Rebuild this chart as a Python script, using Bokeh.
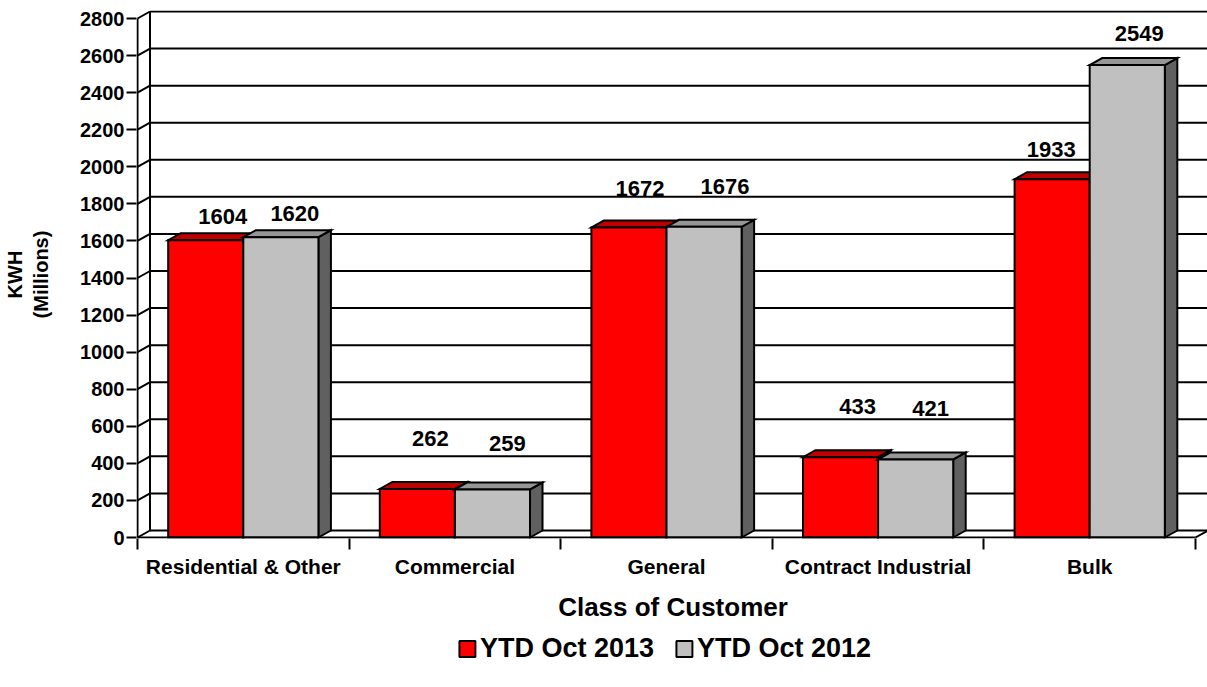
import numpy as np
from bokeh.plotting import figure
from bokeh.layouts import column
from bokeh.models import (Range1d, FixedTicker, LinearAxis, Legend, LegendItem,
                          ColumnDataSource)
from bokeh.embed import file_html
from bokeh.resources import INLINE
from bokeh.core.properties import value

# ---------------- data ----------------
categories = ["Residential & Other", "Commercial", "General",
              "Contract Industrial", "Bulk"]
series_names = ["YTD Oct 2013", "YTD Oct 2012"]
ytd_oct_2013 = [1604, 262, 1672, 433, 1933]
ytd_oct_2012 = [1620, 259, 1676, 421, 2549]
y_ticks = [0, 200, 400, 600, 800, 1000, 1200, 1400, 1600, 1800,
           2000, 2200, 2400, 2600, 2800]

# ---------------- styling / placement ----------------
FONT = "Liberation Sans"
RED, RED_TOP, RED_SIDE = "#FF0000", "#C00000", "#800000"
GRAY, GRAY_TOP, GRAY_SIDE = "#C0C0C0", "#969696", "#606060"
# manual data-label nudges (screen px, relative to bar top centre)
label_dx_2013 = [17, 13, 11, 17, -1]
label_dy_2013 = [-24, -50, -39, -51, -30]
label_dx_2012 = [14, 15, 21, 15, 12]
label_dy_2012 = [-24, -46, -40, -51, -32]

W = 1207
B_LEFT, B_TOP, B_BOTTOM = 134, 10, 96
FRAME_W, FRAME_H = W - B_LEFT, 528
PX_X = 211.6                 # px per category
PX_Y = 519.0 / 2800.0        # px per KWH unit
DX = 12.5 / PX_X             # 3-D depth offset in data units
DY = 7.0 / PX_Y
GAP, BW = 0.145, 0.355

x0 = -1.0 / PX_X
y0 = -1.0 / PX_Y
p = figure(frame_width=FRAME_W, frame_height=FRAME_H,
           min_border_left=B_LEFT, min_border_right=0,
           min_border_top=B_TOP, min_border_bottom=B_BOTTOM,
           x_range=Range1d(x0, x0 + FRAME_W / PX_X),
           y_range=Range1d(y0, y0 + FRAME_H / PX_Y),
           x_axis_type=None, y_axis_type=None,
           toolbar_location=None, output_backend="svg",
           outline_line_color=None, background_fill_color="white",
           border_fill_color="white")

n = len(categories)
LW = 2

# ---------------- walls & grid ----------------
ticks = np.array(y_ticks, dtype=float)
p.segment(x0=[DX] * len(ticks), y0=list(ticks + DY),
          x1=[n + DX] * len(ticks), y1=list(ticks + DY),
          line_color="black", line_width=LW)
p.segment(x0=[0] * len(ticks), y0=list(ticks),
          x1=[DX] * len(ticks), y1=list(ticks + DY),
          line_color="black", line_width=LW)
top = max(y_ticks)
p.segment(x0=[DX, n + DX], y0=[DY, DY], x1=[DX, n + DX], y1=[top + DY, top + DY],
          line_color="black", line_width=LW)
p.segment(x0=[n], y0=[0], x1=[n + DX], y1=[DY], line_color="black", line_width=LW)

# ---------------- bars ----------------
def draw_series(fig, vals, offset, c_front, c_top, c_side):
    vals = np.array(vals, dtype=float)
    idx = np.arange(len(vals))
    left = idx + GAP + offset
    right = left + BW
    sx = [[r, r + DX, r + DX, r] for r in right]
    sy = [[0, DY, v + DY, v] for v in vals]
    fig.patches(sx, sy, fill_color=c_side, line_color="black", line_width=LW,
                line_join="miter")
    tx = [[l, r, r + DX, l + DX] for l, r in zip(left, right)]
    ty = [[v, v, v + DY, v + DY] for v in vals]
    fig.patches(tx, ty, fill_color=c_top, line_color="black", line_width=LW,
                line_join="miter")
    fig.quad(left=left, right=right, bottom=0, top=vals, fill_color=c_front,
             line_color="black", line_width=LW, line_join="miter")
    return (left + right) / 2

cx_2013 = draw_series(p, ytd_oct_2013, 0.0, RED, RED_TOP, RED_SIDE)
cx_2012 = draw_series(p, ytd_oct_2012, BW, GRAY, GRAY_TOP, GRAY_SIDE)

# front edges: y-axis line and floor front edge
p.segment(x0=[0, 0], y0=[0, 0], x1=[0, n], y1=[top, 0],
          line_color="black", line_width=LW)

# ---------------- data labels ----------------
lab = ColumnDataSource(dict(
    x=list(cx_2013) + list(cx_2012),
    y=ytd_oct_2013 + ytd_oct_2012,
    text=[str(v) for v in ytd_oct_2013 + ytd_oct_2012],
    dx=label_dx_2013 + label_dx_2012,
    dy=label_dy_2013 + label_dy_2012,
))
p.text(x="x", y="y", text="text", x_offset="dx", y_offset="dy", source=lab,
       text_font=value(FONT), text_font_style="bold", text_font_size="22px",
       text_align="center", text_baseline="middle", text_color="black")

# ---------------- axes ----------------
yaxis = LinearAxis(ticker=FixedTicker(ticks=y_ticks),
                   axis_line_color=None,
                   major_tick_out=10, major_tick_in=0, major_tick_line_width=2,
                   major_tick_line_color="black",
                   minor_tick_line_color=None,
                   major_label_standoff=2,
                   major_label_text_font=FONT,
                   major_label_text_font_style="bold",
                   major_label_text_font_size="20px",
                   major_label_text_color="black",
                   axis_label="KWH\n(Millions)",
                   axis_label_standoff=25,
                   axis_label_text_font=FONT,
                   axis_label_text_font_style="bold",
                   axis_label_text_font_size="20px",
                   axis_label_text_color="black",
                   axis_label_text_align="center")
p.add_layout(yaxis, "left")

centers = [i + 0.5 for i in range(n)]
xaxis = LinearAxis(ticker=FixedTicker(ticks=centers, minor_ticks=list(range(n + 1))),
                   major_label_overrides={c: name for c, name in zip(centers, categories)},
                   axis_line_color=None,
                   major_tick_line_color=None, major_tick_out=0, major_tick_in=0,
                   minor_tick_out=11, minor_tick_in=0, minor_tick_line_width=2,
                   minor_tick_line_color="black",
                   major_label_standoff=5,
                   major_label_text_font=FONT,
                   major_label_text_font_style="bold",
                   major_label_text_font_size="21px",
                   major_label_text_color="black",
                   axis_label="Class of Customer",
                   axis_label_standoff=11,
                   axis_label_text_font=FONT,
                   axis_label_text_font_style="bold",
                   axis_label_text_font_size="26px",
                   axis_label_text_color="black")
p.add_layout(xaxis, "below")

# ---------------- legend (separate strip below the chart) ----------------
LEG_H = 28
pl = figure(width=W, height=LEG_H, min_border_left=0, min_border_right=15,
            min_border_top=0, min_border_bottom=0,
            x_range=Range1d(0, 1), y_range=Range1d(0, 1),
            x_axis_type=None, y_axis_type=None,
            toolbar_location=None, output_backend="svg",
            outline_line_color=None, background_fill_color="white",
            border_fill_color="white")
# swatch renderers: one entry placed outside the visible range
sw_red = pl.quad(left=[5], right=[6], bottom=[5], top=[6], fill_color=RED,
                 line_color="black", line_width=LW)
sw_gray = pl.quad(left=[5], right=[6], bottom=[5], top=[6], fill_color=GRAY,
                  line_color="black", line_width=LW)
legend = Legend(items=[LegendItem(label=series_names[0], renderers=[sw_red]),
                       LegendItem(label=series_names[1], renderers=[sw_gray])],
                orientation="horizontal", location="center",
                border_line_color=None, background_fill_alpha=0,
                padding=0, margin=0, spacing=20, label_standoff=3,
                glyph_width=20, glyph_height=20,
                label_text_font=FONT, label_text_font_style="bold",
                label_text_font_size="27px", label_text_color="black",
                label_text_baseline="middle")
pl.add_layout(legend, "center")

layout = column(p, pl, spacing=0)
open("out.html", "w").write(file_html(layout, INLINE))
